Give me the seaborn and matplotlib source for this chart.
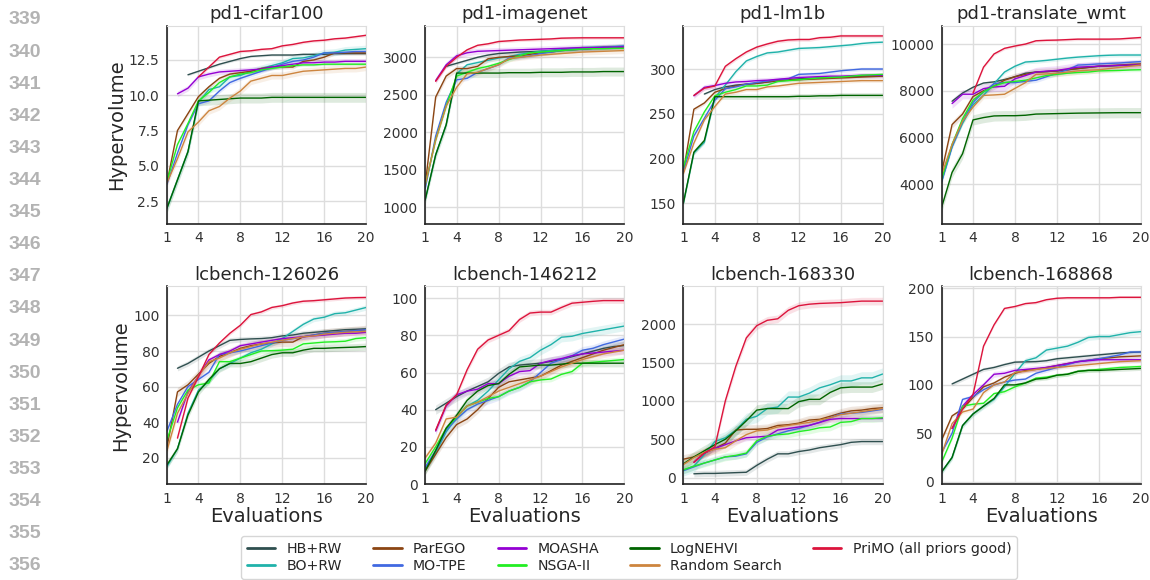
import numpy as np
import pandas as pd
import matplotlib
matplotlib.use('Agg')
import matplotlib.pyplot as plt
from matplotlib.lines import Line2D
import seaborn as sns

nan = np.nan
steps = list(range(1, 21))

methods = ['HB+RW', 'BO+RW', 'ParEGO', 'MO-TPE', 'MOASHA', 'NSGA-II', 'LogNEHVI',
           'Random Search', 'PriMO (all priors good)']
colors = ['#2f4f4f', '#20b2aa', '#8b4513', '#4169e1', '#9400d3', '#22ee22',
          '#006400', '#cd853f', '#dc143c']

titles = ['pd1-cifar100', 'pd1-imagenet', 'pd1-lm1b', 'pd1-translate_wmt',
          'lcbench-126026', 'lcbench-146212', 'lcbench-168330', 'lcbench-168868']

# ---- pd1-cifar100
cifar_hb = [nan, nan, 11.45, 11.7, 11.95, 12.2, 12.4, 12.6, 12.75, 12.8, 12.85, 12.85, 12.85, 12.9, 12.9, 12.9, 12.95, 12.95, 12.95, 12.95]
cifar_bo = [2.0, 4.0, 6.0, 9.5, 10.4, 10.6, 11.3, 11.4, 11.7, 11.9, 12.1, 12.3, 12.6, 12.65, 12.8, 13.0, 13.05, 13.2, 13.25, 13.3]
cifar_parego = [3.8, 7.5, 8.7, 9.9, 10.6, 11.2, 11.5, 11.6, 11.7, 11.9, 12.0, 12.0, 12.0, 12.4, 12.5, 12.7, 13.0, 13.0, 13.0, 13.0]
cifar_motpe = [3.7, 5.9, 7.9, 9.4, 9.6, 10.3, 10.9, 11.2, 11.45, 11.7, 11.95, 12.2, 12.4, 12.5, 12.7, 13.0, 13.0, 13.05, 13.1, 13.1]
cifar_moasha = [nan, 10.1, 10.5, 11.3, 11.5, 11.65, 11.7, 11.75, 11.8, 11.85, 12.0, 12.1, 12.2, 12.3, 12.3, 12.35, 12.35, 12.4, 12.4, 12.4]
cifar_nsga = [3.9, 6.5, 8.0, 9.6, 10.2, 10.9, 11.3, 11.5, 11.6, 11.8, 11.9, 12.0, 12.1, 12.15, 12.15, 12.2, 12.2, 12.2, 12.2, 12.2]
cifar_lognehvi = [2.0, 4.0, 6.0, 9.6, 9.65, 9.7, 9.75, 9.8, 9.8, 9.8, 9.85, 9.85, 9.85, 9.85, 9.85, 9.85, 9.85, 9.85, 9.85, 9.85]
cifar_rs = [3.8, 5.5, 7.4, 8.1, 8.9, 9.2, 9.8, 10.3, 11.0, 11.2, 11.4, 11.4, 11.55, 11.7, 11.75, 11.8, 11.85, 11.9, 11.9, 12.0]
cifar_primo = [nan, nan, nan, 11.3, 12.0, 12.7, 12.9, 13.1, 13.15, 13.25, 13.3, 13.5, 13.6, 13.75, 13.85, 13.9, 14.0, 14.05, 14.15, 14.25]
cifar_band = [0.08, 0.25, 0.15, 0.15, 0.2, 0.1, 0.35, 0.25, 0.1]

# ---- pd1-imagenet
imnet_hb = [nan, nan, 2880, 2920, 2960, 3000, 3030, 3050, 3060, 3070, 3075, 3080, 3090, 3100, 3105, 3110, 3120, 3130, 3135, 3140]
imnet_bo = [1100, 1700, 2100, 2780, 2900, 2930, 2960, 2990, 3010, 3040, 3060, 3080, 3090, 3110, 3120, 3130, 3135, 3140, 3145, 3150]
imnet_parego = [1300, 2470, 2750, 2850, 2850, 2880, 2980, 3000, 3010, 3020, 3040, 3060, 3070, 3090, 3100, 3110, 3120, 3130, 3135, 3140]
imnet_motpe = [1250, 1950, 2400, 2700, 2720, 2800, 2850, 2900, 2990, 3000, 3020, 3050, 3070, 3090, 3100, 3110, 3120, 3130, 3140, 3150]
imnet_moasha = [nan, 2690, 2900, 3020, 3060, 3080, 3085, 3090, 3095, 3100, 3105, 3110, 3115, 3120, 3125, 3130, 3130, 3135, 3135, 3140]
imnet_nsga = [1300, 1900, 2350, 2750, 2800, 2850, 2880, 2920, 2970, 3020, 3060, 3070, 3080, 3090, 3100, 3110, 3115, 3115, 3120, 3120]
imnet_lognehvi = [1100, 1700, 2100, 2790, 2790, 2790, 2790, 2790, 2795, 2795, 2795, 2800, 2800, 2800, 2805, 2805, 2805, 2810, 2810, 2810]
imnet_rs = [1300, 1900, 2350, 2600, 2780, 2800, 2850, 2900, 2980, 3000, 3015, 3030, 3040, 3050, 3060, 3070, 3075, 3080, 3085, 3090]
imnet_primo = [nan, 2680, 2880, 3000, 3100, 3160, 3180, 3210, 3220, 3230, 3235, 3240, 3245, 3255, 3258, 3260, 3260, 3260, 3260, 3260]
imnet_band = [20, 30, 40, 30, 40, 30, 60, 40, 20]

# ---- pd1-lm1b
lm1b_hb = [nan, nan, 272, 277, 280, 282, 283, 284, 285.5, 287, 288, 289, 289.5, 290, 290.5, 291, 291.5, 292, 292, 292]
lm1b_bo = [150, 206, 218, 268, 282, 297, 309, 314, 318, 319, 321, 323, 323.5, 324, 325, 326, 327, 328.5, 329.5, 330]
lm1b_parego = [185, 255, 262, 274, 278, 281, 283, 284, 285.5, 287, 287.5, 288, 288.5, 289, 289.5, 290, 290.5, 291, 291.5, 292]
lm1b_motpe = [185, 225, 245, 265, 278, 280, 283, 285, 286.5, 288, 289, 294, 294.5, 295, 296.5, 298, 299, 300, 300, 300]
lm1b_moasha = [nan, 270, 279.5, 281.5, 284, 285.5, 286, 287, 287.5, 288.5, 289.5, 290.5, 291, 291.5, 292, 292, 292.5, 293, 293, 293]
lm1b_nsga = [190, 230, 252, 270, 274, 277, 281, 281, 282, 286, 287, 288, 289, 290, 290.5, 291, 292, 293, 293.5, 294]
lm1b_lognehvi = [150, 207, 220, 269, 269, 269, 269, 269, 269, 269, 269, 269.5, 269.5, 270, 270, 270.5, 270.5, 270.5, 270.5, 270.5]
lm1b_rs = [183, 217, 243, 258, 272, 274, 277, 277, 280, 281, 282.5, 284, 284.5, 285, 285.5, 286, 286.5, 287, 287, 287]
lm1b_primo = [nan, 270.5, 278.5, 281, 303, 311.5, 319, 324.5, 328, 331, 332.5, 333, 333, 335, 335.5, 337, 337, 337, 337, 337]
lm1b_band = [1, 2, 2, 2, 3, 2, 3, 2, 2]

# ---- pd1-translate_wmt
wmt_hb = [nan, 7550, 7900, 8150, 8330, 8380, 8480, 8600, 8750, 8800, 8820, 8850, 8900, 8950, 9000, 9050, 9060, 9080, 9090, 9100]
wmt_bo = [4100, 5600, 6600, 7400, 7800, 8300, 8800, 9050, 9230, 9260, 9300, 9350, 9400, 9440, 9470, 9500, 9520, 9530, 9530, 9530]
wmt_parego = [4500, 6550, 7000, 7750, 8000, 8200, 8450, 8600, 8700, 8800, 8820, 8850, 8900, 8950, 9000, 9050, 9080, 9100, 9130, 9150]
wmt_motpe = [4100, 5600, 6700, 7500, 7950, 8300, 8350, 8350, 8400, 8450, 8600, 8750, 8900, 9100, 9120, 9150, 9170, 9190, 9220, 9250]
wmt_moasha = [nan, 7450, 7850, 7850, 8090, 8160, 8190, 8510, 8650, 8800, 8840, 8870, 8940, 9010, 9030, 9050, 9070, 9090, 9100, 9110]
wmt_nsga = [4200, 5700, 6800, 7600, 7950, 8200, 8350, 8400, 8450, 8550, 8650, 8700, 8750, 8780, 8800, 8850, 8860, 8870, 8890, 8900]
wmt_lognehvi = [3000, 4500, 5300, 6750, 6850, 6920, 6930, 6930, 6950, 7000, 7010, 7020, 7030, 7040, 7045, 7050, 7055, 7060, 7060, 7060]
wmt_rs = [4400, 5700, 6700, 7300, 7800, 7820, 7850, 8100, 8350, 8700, 8720, 8750, 8800, 8850, 8880, 8900, 8950, 9000, 9050, 9100]
wmt_primo = [nan, nan, nan, 7900, 9010, 9575, 9816, 9915, 10000, 10140, 10160, 10170, 10190, 10210, 10210, 10210, 10210, 10220, 10250, 10280]
wmt_band = [60, 80, 150, 100, 200, 80, 220, 150, 60]

# ---- lcbench-126026
lc126_hb = [nan, 70.3, 73, 76.5, 80, 83, 86, 86.5, 86.8, 87, 87.5, 88.5, 89, 90, 90.5, 91, 91.5, 92, 92.2, 92.5]
lc126_bo = [15, 25, 45, 58, 63, 70, 73, 76, 79, 81, 84, 87, 91, 95, 98, 99, 101, 101.5, 103, 104.5]
lc126_parego = [26, 57, 61, 67, 73, 77, 79, 81.5, 83, 84, 84.5, 85, 85, 88, 89, 90, 90.5, 91, 91.5, 92]
lc126_motpe = [35, 50, 60, 64, 68, 78, 79, 80, 81.5, 83, 84.5, 86, 87, 88, 89, 90, 90.5, 91, 91.5, 92]
lc126_moasha = [nan, 40, 57, 66, 75, 78, 80, 83, 84, 85, 86, 87, 87.5, 88, 88.5, 89, 89.5, 90, 90, 90.5]
lc126_nsga = [30, 48, 58, 61, 62, 74, 74, 76, 78, 80, 80.2, 80.5, 81, 84, 84.5, 85, 85.2, 85.5, 87, 87.5]
lc126_lognehvi = [16, 25, 44, 57, 64, 70, 73, 73, 74, 76, 78, 79, 79, 80.5, 81.5, 81.5, 81.8, 82, 82.2, 82.5]
lc126_rs = [24, 45, 56, 66, 74, 76, 79, 81, 82.5, 84, 85, 86, 87, 88, 88.5, 89.5, 90, 90.5, 90.8, 91]
lc126_primo = [nan, 31, 53.5, 65.5, 78, 84.5, 90, 94.5, 100.5, 102, 104.5, 105.5, 107, 108, 108.3, 108.8, 109.3, 109.8, 110, 110.1]
lc126_band = [1.5, 1.5, 2.5, 1.5, 1.5, 1.5, 2, 2, 1]

# ---- lcbench-146212
lc146_hb = [nan, 40, 43.5, 47, 50, 52.5, 55, 59.5, 63, 64, 64.5, 65, 66, 67, 68.5, 70, 71.5, 73, 74, 74.5]
lc146_bo = [8, 17, 28, 36, 42, 45, 50, 56, 62, 66, 68, 72, 75, 79, 79.5, 81, 82, 83, 84, 85]
lc146_parego = [7, 16, 25, 32, 35, 40, 46, 52, 55, 56, 57, 58, 61, 64, 66, 68, 70, 72, 73.5, 75]
lc146_motpe = [9, 18, 29, 35, 40, 43, 45, 47, 50, 52, 55, 60, 65, 67, 69, 72, 73, 75, 76.5, 78]
lc146_moasha = [nan, 28.5, 42, 48, 50, 51, 54, 54, 58, 60.5, 61, 65, 66.5, 67.5, 69, 70, 70.5, 71, 71.5, 72]
lc146_nsga = [11, 20, 30, 36, 42, 44, 46, 47, 50, 52, 55, 56, 56.5, 59, 60.5, 65, 65.5, 66, 66.5, 67]
lc146_lognehvi = [7, 18, 30, 37, 45, 50, 53, 54, 59, 63, 63.5, 64, 64, 64.5, 65, 65, 65, 65, 65, 65]
lc146_rs = [14, 22, 35, 36, 42, 44, 47, 50, 52, 54, 56, 58, 60.5, 63, 65, 67, 68.5, 70, 71, 72]
lc146_primo = [nan, 29, 42.5, 48, 61.5, 72.5, 77.5, 80, 82.5, 88.5, 92, 92.5, 92.5, 95, 97.3, 97.8, 98.3, 98.7, 98.7, 98.7]
lc146_band = [2.5, 2.5, 2, 2, 2, 1.5, 2, 2, 1.5]

# ---- lcbench-168330
lc168a_hb = [nan, 50, 55, 55, 60, 65, 70, 160, 240, 310, 310, 340, 360, 390, 410, 430, 460, 470, 470, 470]
lc168a_bo = [100, 150, 300, 470, 520, 620, 760, 800, 900, 920, 1050, 1050, 1100, 1170, 1210, 1260, 1260, 1300, 1300, 1350]
lc168a_parego = [240, 270, 320, 380, 450, 620, 630, 630, 640, 680, 690, 710, 750, 760, 800, 840, 870, 880, 900, 910]
lc168a_motpe = [90, 140, 190, 230, 270, 280, 310, 460, 530, 570, 610, 640, 680, 720, 780, 830, 840, 850, 870, 890]
lc168a_moasha = [nan, 200, 320, 380, 430, 480, 520, 530, 540, 620, 640, 660, 680, 720, 760, 770, 770, 770, 770, 770]
lc168a_nsga = [100, 150, 190, 230, 270, 290, 320, 480, 540, 560, 570, 600, 620, 650, 660, 720, 730, 770, 770, 780]
lc168a_lognehvi = [180, 270, 350, 430, 500, 610, 740, 880, 900, 900, 900, 990, 1020, 1020, 1110, 1170, 1180, 1180, 1180, 1220]
lc168a_rs = [170, 260, 330, 370, 390, 480, 560, 610, 620, 660, 680, 700, 720, 750, 780, 820, 840, 860, 880, 900]
lc168a_primo = [nan, 200, 320, 400, 1000, 1450, 1820, 1980, 2050, 2070, 2180, 2240, 2260, 2270, 2275, 2280, 2290, 2300, 2300, 2300]
lc168a_band = [40, 80, 60, 40, 40, 50, 70, 60, 50]

# ---- lcbench-168868
lc168b_hb = [nan, 101, 106, 111, 116, 118, 121, 123.5, 123.8, 124, 125, 127, 128, 129, 130, 131, 132, 133, 133.5, 134]
lc168b_bo = [10, 25, 58, 70, 78, 85, 98, 112, 125, 128, 136, 138, 140, 144, 149, 150, 150, 152, 154, 155]
lc168b_parego = [43, 68, 75, 87, 98, 102, 108, 112, 115, 116, 118, 120, 122, 124, 125.5, 127, 128, 129, 129.5, 130]
lc168b_motpe = [30, 50, 85, 88, 95, 100, 103, 105, 106, 112, 115, 118, 121, 124, 125.5, 127, 129, 131, 134, 134]
lc168b_moasha = [nan, 55, 78, 90, 100, 111, 112, 115, 116, 117, 118, 120, 122, 124, 125, 126, 126, 126, 126, 126]
lc168b_nsga = [20, 45, 78, 80, 81, 91, 93, 98, 102, 107, 108, 110, 111, 114, 115, 116, 117, 118, 118.5, 119]
lc168b_lognehvi = [10, 25, 58, 70, 78, 86, 100, 100, 102, 106, 107, 110, 111, 114, 115, 115, 115.5, 116, 116.5, 117]
lc168b_rs = [28, 60, 72, 75, 92, 100, 103, 113, 114, 116, 117, 118, 119, 120, 121, 122, 123, 124, 124.5, 125]
lc168b_primo = [nan, 55, 75, 90, 140, 162, 179, 181, 184, 185, 188, 189.5, 190, 190, 190, 190, 190, 190.5, 190.5, 190.5]
lc168b_band = [2, 3, 2, 2, 3, 2, 2, 2, 1.5]

# y tick positions per panel
yticks = [
    [2.5, 5.0, 7.5, 10.0, 12.5],
    [1000, 1500, 2000, 2500, 3000],
    [150, 200, 250, 300],
    [4000, 6000, 8000, 10000],
    [20, 40, 60, 80, 100],
    [0, 20, 40, 60, 80, 100],
    [0, 500, 1000, 1500, 2000],
    [0, 50, 100, 150, 200],
]

panels = [
    ([cifar_hb, cifar_bo, cifar_parego, cifar_motpe, cifar_moasha, cifar_nsga, cifar_lognehvi, cifar_rs, cifar_primo], cifar_band, (0.9, 14.9)),
    ([imnet_hb, imnet_bo, imnet_parego, imnet_motpe, imnet_moasha, imnet_nsga, imnet_lognehvi, imnet_rs, imnet_primo], imnet_band, (783, 3416)),
    ([lm1b_hb, lm1b_bo, lm1b_parego, lm1b_motpe, lm1b_moasha, lm1b_nsga, lm1b_lognehvi, lm1b_rs, lm1b_primo], lm1b_band, (127, 348)),
    ([wmt_hb, wmt_bo, wmt_parego, wmt_motpe, wmt_moasha, wmt_nsga, wmt_lognehvi, wmt_rs, wmt_primo], wmt_band, (2306, 10769)),
    ([lc126_hb, lc126_bo, lc126_parego, lc126_motpe, lc126_moasha, lc126_nsga, lc126_lognehvi, lc126_rs, lc126_primo], lc126_band, (5.2, 116.3)),
    ([lc146_hb, lc146_bo, lc146_parego, lc146_motpe, lc146_moasha, lc146_nsga, lc146_lognehvi, lc146_rs, lc146_primo], lc146_band, (0, 106.3)),
    ([lc168a_hb, lc168a_bo, lc168a_parego, lc168a_motpe, lc168a_moasha, lc168a_nsga, lc168a_lognehvi, lc168a_rs, lc168a_primo], lc168a_band, (-83, 2491)),
    ([lc168b_hb, lc168b_bo, lc168b_parego, lc168b_motpe, lc168b_moasha, lc168b_nsga, lc168b_lognehvi, lc168b_rs, lc168b_primo], lc168b_band, (-2.4, 201.7)),
]

sns.set_style("whitegrid")
plt.rcParams['font.family'] = ['DejaVu Sans']

fig, axes = plt.subplots(2, 4, figsize=(11.5, 5.8), dpi=100)
fig.subplots_adjust(left=0.1452, right=0.992, top=0.955, bottom=0.1655, wspace=0.296, hspace=0.318)

for k, ax in enumerate(axes.flat):
    series, band, ylim = panels[k]
    df = pd.DataFrame({
        'Evaluations': steps * len(methods),
        'Hypervolume': np.concatenate([np.array(s, dtype=float) for s in series]),
        'method': np.repeat(methods, len(steps)),
    })
    for m, col, w in zip(methods, colors, band):
        sub = df[df['method'] == m].dropna()
        ax.fill_between(sub['Evaluations'], sub['Hypervolume'] - w, sub['Hypervolume'] + w,
                        color=col, alpha=0.13, linewidth=0)
    sns.lineplot(data=df.dropna(), x='Evaluations', y='Hypervolume', hue='method',
                 hue_order=methods, palette=colors, linewidth=1.0, legend=False,
                 errorbar=None, ax=ax)
    ax.set_xlim(1, 20)
    ax.set_ylim(*ylim)
    ax.set_xticks([1, 4, 8, 12, 16, 20])
    ax.set_yticks(yticks[k])
    ax.set_title(titles[k], fontsize=13, color='#262626', pad=5)
    ax.tick_params(axis='both', labelsize=10, colors='#333333', pad=2)
    ax.grid(True, color='#dddddd', linewidth=1)
    for side in ['left', 'bottom']:
        ax.spines[side].set_color('#222222')
        ax.spines[side].set_linewidth(1.2)
    for side in ['top', 'right']:
        ax.spines[side].set_color('#dddddd')
    ax.set_xlabel('Evaluations' if k >= 4 else '', fontsize=14, labelpad=1)
    ax.set_ylabel('Hypervolume' if k % 4 == 0 else '', fontsize=14, labelpad=2)

handles = [Line2D([0], [0], color=c, linewidth=2) for c in colors]
fig.legend(handles, methods, loc='upper center', bbox_to_anchor=(0.547, 0.088), ncol=5,
           fontsize=10.2, frameon=True, edgecolor='#cccccc', borderpad=0.4,
           labelspacing=0.25, columnspacing=2.2, handlelength=2.0)

# page line numbers
for i, num in enumerate(range(339, 357)):
    fig.text(25 / 1150, 1 - (20 + 32.1 * i) / 580, str(num), ha='center', va='center',
             fontsize=14, fontweight='bold', color='#b3b3b3', family='Liberation Sans')

fig.savefig('out.png', dpi=100)
